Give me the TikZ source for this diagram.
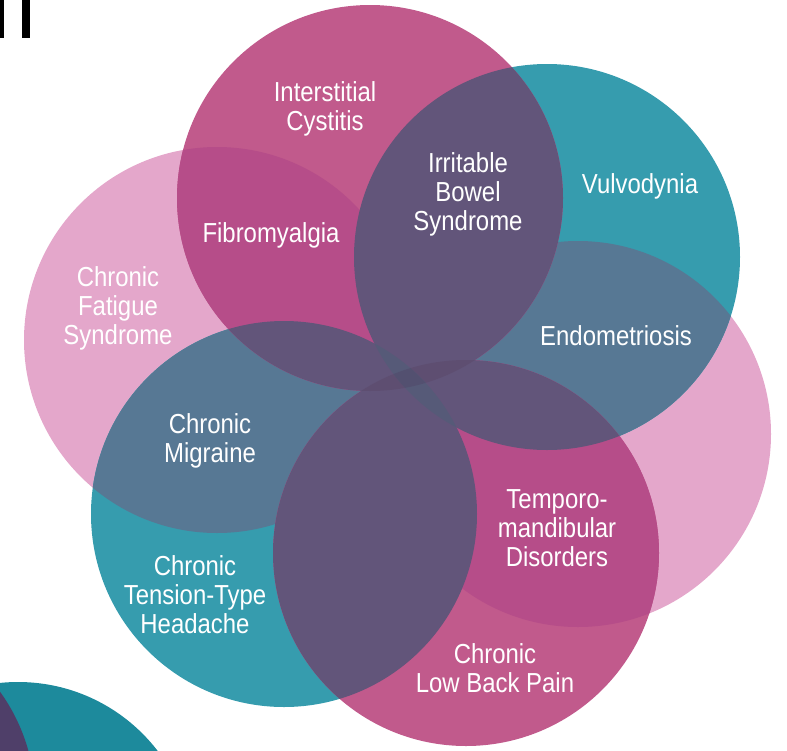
\documentclass[tikz,border=0pt]{standalone}
\usepackage{fontspec}
\newfontfamily\labelfont[FakeStretch=0.87]{Liberation Sans}

% fill colours: single circles, pairwise overlaps and the central lenses
\definecolor{magc}{HTML}{C15A8C}
\definecolor{tealc}{HTML}{369CAE}
\definecolor{pinkc}{HTML}{E4A7CB}
\definecolor{magpink}{HTML}{B64D89}
\definecolor{tealpink}{HTML}{577894}
\definecolor{magteal}{HTML}{62557A}
\definecolor{magmag}{HTML}{5E4E71}
\definecolor{tealteal}{HTML}{565A78}
\definecolor{coreall}{HTML}{535070}
\definecolor{darkteal}{HTML}{1D8A9C}
\definecolor{darkplum}{HTML}{4F3F69}

% fill the part of circle #2 that lies inside circle #1
\newcommand\overlapfill[3]{%
  \begin{scope}
    \clip (#1) circle[radius=193pt];
    \fill[#3] (#2) circle[radius=193pt];
  \end{scope}}

\tikzset{
  lbl/.style={text=white, inner sep=0pt, align=center,
    font=\labelfont\fontsize{27.5}{29}\selectfont},
}

\begin{document}
\begin{tikzpicture}[x=1pt,y=-1pt]
\useasboundingbox (0,0) rectangle (787,750);
\clip (0,0) rectangle (787,750);

% circle centres
\coordinate (cIC) at (370,198);
\coordinate (cVU) at (547,257);
\coordinate (cEN) at (578,434);
\coordinate (cLB) at (466,553);
\coordinate (cTL) at (284,514);
\coordinate (cCF) at (217,340);

% heading fragment and corner circles
\fill[black] (0,0) rectangle (4,38);
\fill[black] (22,0) rectangle (30,38);
\coordinate (cDT) at (18,858);
\coordinate (cDP) at (-150,800);
\fill[darkteal] (cDT) circle[radius=176pt];
\fill[darkplum] (cDP) circle[radius=185pt];

% single circles
\fill[pinkc] (cCF) circle[radius=193pt];
\fill[pinkc] (cEN) circle[radius=193pt];
\fill[tealc] (cVU) circle[radius=193pt];
\fill[tealc] (cTL) circle[radius=193pt];
\fill[magc] (cIC) circle[radius=193pt];
\fill[magc] (cLB) circle[radius=193pt];

% teal over pink
\overlapfill{cVU}{cEN}{tealpink}
\overlapfill{cVU}{cCF}{tealpink}
\overlapfill{cTL}{cEN}{tealpink}
\overlapfill{cTL}{cCF}{tealpink}

% magenta over pink
\overlapfill{cIC}{cCF}{magpink}
\overlapfill{cIC}{cEN}{magpink}
\overlapfill{cLB}{cCF}{magpink}
\overlapfill{cLB}{cEN}{magpink}

% magenta over teal
\overlapfill{cIC}{cVU}{magteal}
\overlapfill{cIC}{cTL}{magteal}
\overlapfill{cLB}{cVU}{magteal}
\overlapfill{cLB}{cTL}{magteal}

% central lenses
\overlapfill{cIC}{cLB}{magmag}
\overlapfill{cVU}{cTL}{tealteal}
\begin{scope}
  \clip (cIC) circle[radius=193pt];
  \clip (cLB) circle[radius=193pt];
  \clip (cVU) circle[radius=193pt];
  \fill[coreall] (cTL) circle[radius=193pt];
\end{scope}

% labels
\node[lbl] (ic)   at (325,109.2) {Interstitial\\Cystitis};
\node[lbl] (ibs)  at (468,194)   {Irritable\\Bowel\\Syndrome};
\node[lbl] (vu)   at (640,186.3) {Vulvodynia};
\node[lbl] (fm)   at (271,235.7) {Fibromyalgia};
\node[lbl] (cfs)  at (118,308.7) {Chronic\\Fatigue\\Syndrome};
\node[lbl] (endo) at (616,335.3) {Endometriosis};
\node[lbl] (cm)   at (210,440.8) {Chronic\\Migraine};
\node[lbl] (tmd)  at (557,528.1) {Temporo-\\mandibular\\Disorders};
\node[lbl] (ctth) at (195,594.5) {Chronic\\Tension-Type\\Headache};
\node[lbl] (clbp) at (495,668.3) {Chronic\\Low Back Pain};
\end{tikzpicture}
\end{document}
